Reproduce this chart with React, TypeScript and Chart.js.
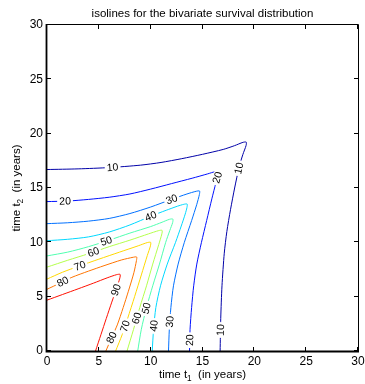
import React, { useEffect, useRef } from 'react';
import { Chart, registerables } from 'chart.js';

Chart.register(...registerables);

const LEVELS = [10, 20, 30, 40, 50, 60, 70, 80, 90];
const COLORS = ['#0000A8', '#0010FF', '#0070FF', '#00D8FF', '#50FFB0', '#B4FF4C', '#FFD800', '#FF7400', '#FF1000'];
const TICKS = [0, 5, 10, 15, 20, 25, 30];

const c10 = [[0,16.7],[3,16.76],[6,16.88],[9,17.1],[11,17.35],[13,17.7],[15,18.1],[17,18.55],[18.1,18.9],[18.9,19.2],[19.22,19.22],[19.2,18.9],[18.9,18.1],[18.55,17],[18.1,15],[17.7,13],[17.35,11],[17.1,9],[16.88,6],[16.76,3],[16.7,0]];
const c20 = [[0,13.75],[2,13.8],[4,13.95],[6,14.15],[8,14.45],[10,14.9],[12,15.4],[14,15.9],[15.5,16.3],[16.2,16.5],[16.52,16.52],[16.5,16.2],[16.3,15.5],[15.9,14],[15.4,12],[14.9,10],[14.45,8],[14.15,6],[13.95,4],[13.8,2],[13.75,0]];
const c30 = [[0,11.72],[2,11.8],[4,11.95],[6,12.2],[8,12.65],[10,13.25],[12,13.95],[13.5,14.45],[14.4,14.7],[14.72,14.72],[14.7,14.4],[14.45,13.5],[13.95,12],[13.25,10],[12.65,8],[12.2,6],[11.95,4],[11.8,2],[11.72,0]];
const c40 = [[0,10.15],[2,10.28],[4,10.5],[6,10.95],[8,11.6],[10,12.4],[11.5,12.95],[12.6,13.33],[13.2,13.5],[13.52,13.52],[13.5,13.2],[13.33,12.6],[12.95,11.5],[12.4,10],[11.6,8],[10.95,6],[10.5,4],[10.28,2],[10.15,0]];
const c50 = [[0,8.75],[2,9.1],[4,9.6],[6,10.2],[8,10.85],[10,11.45],[11.1,11.85],[11.82,12.12],[12.14,12.14],[12.12,11.82],[11.85,11.1],[11.45,10],[10.85,8],[10.2,6],[9.6,4],[9.1,2],[8.75,0]];
const c60 = [[0,7.72],[2,8.35],[4,8.95],[6,9.6],[8,10.2],[9.8,10.78],[10.78,11.08],[11.1,11.1],[11.08,10.78],[10.78,9.8],[10.2,8],[9.6,6],[8.95,4],[8.35,2],[7.72,0]];
const c70 = [[0,6.62],[1.5,7.25],[3,7.78],[5,8.45],[7,9.1],[8.8,9.68],[9.68,9.98],[10,10],[9.98,9.68],[9.68,8.8],[9.1,7],[8.45,5],[7.78,3],[7.25,1.5],[6.62,0]];
const c80 = [[0,5.68],[1.2,6.22],[2.4,6.78],[4,7.35],[5.5,7.85],[7.2,8.38],[8.33,8.63],[8.65,8.65],[8.63,8.33],[8.38,7.2],[7.85,5.5],[7.35,4],[6.78,2.4],[6.22,1.2],[5.68,0]];
const c90 = [[0,4.68],[1.5,5.2],[3,5.72],[4.5,6.25],[5.8,6.73],[6.73,7.03],[7.05,7.05],[7.03,6.73],[6.73,5.8],[6.25,4.5],[5.72,3],[5.2,1.5],[4.68,0]];
const CONTOURS = [c10, c20, c30, c40, c50, c60, c70, c80, c90];

// [level, t1, t2] approximate label anchor positions
const LABELS = [
  [10, 6.33, 16.88], [10, 18.55, 16.81], [10, 16.75, 1.93],
  [20, 1.74, 13.8], [20, 16.38, 15.98], [20, 13.72, 1.0],
  [30, 12.02, 14.0], [30, 11.88, 2.7],
  [40, 10.0, 12.45], [40, 10.4, 2.3],
  [50, 5.65, 10.3], [50, 10.0, 3.83],
  [60, 4.47, 9.1], [60, 8.71, 3.0],
  [70, 3.18, 7.82], [70, 7.52, 2.3],
  [80, 1.57, 6.3], [80, 6.17, 1.26],
  [90, 6.72, 5.61],
];

const TITLE = 'isolines for the bivariate survival distribution';
const FONT = '"Liberation Sans", Arial, Helvetica, sans-serif';

function drawSubText(ctx: CanvasRenderingContext2D, parts: [string, boolean][], size: number) {
  let w = 0;
  for (const [t, sub] of parts) {
    ctx.font = `${sub ? size * 0.72 : size}px ${FONT}`;
    w += ctx.measureText(t).width;
  }
  let x = -w / 2;
  for (const [t, sub] of parts) {
    ctx.font = `${sub ? size * 0.72 : size}px ${FONT}`;
    ctx.fillText(t, x, sub ? size * 0.3 : 0);
    x += ctx.measureText(t).width;
  }
}

const overlay = {
  id: 'overlay',
  afterDatasetsDraw(chart: any) {
    const ctx: CanvasRenderingContext2D = chart.ctx;
    const xs = chart.scales.x, ys = chart.scales.y;
    ctx.save();
    ctx.font = `10.5px ${FONT}`;
    ctx.textAlign = 'center';
    ctx.textBaseline = 'middle';
    for (const [lev, t1, t2] of LABELS) {
      const idx = LEVELS.indexOf(lev);
      const pts = CONTOURS[idx].map(([a, b]) => [xs.getPixelForValue(a), ys.getPixelForValue(b)]);
      const px = xs.getPixelForValue(t1), py = ys.getPixelForValue(t2);
      let best = Infinity, bx = px, by = py, ang = 0;
      for (let i = 0; i < pts.length - 1; i++) {
        const [x0, y0] = pts[i], [x1, y1] = pts[i + 1];
        const dx = x1 - x0, dy = y1 - y0;
        const L2 = dx * dx + dy * dy || 1;
        let t = ((px - x0) * dx + (py - y0) * dy) / L2;
        t = Math.max(0, Math.min(1, t));
        const qx = x0 + t * dx, qy = y0 + t * dy;
        const d = (qx - px) ** 2 + (qy - py) ** 2;
        if (d < best) { best = d; bx = qx; by = qy; ang = Math.atan2(dy, dx); }
      }
      if (ang > Math.PI / 2) ang -= Math.PI;
      if (ang <= -Math.PI / 2) ang += Math.PI;
      const text = String(lev);
      ctx.save();
      ctx.translate(bx, by);
      ctx.rotate(ang);
      const w = ctx.measureText(text).width;
      ctx.fillStyle = '#ffffff';
      ctx.fillRect(-w / 2 - 2, -4.5, w + 4, 9);
      ctx.fillStyle = '#000000';
      ctx.fillText(text, 0, 0.5);
      ctx.restore();
    }
    ctx.restore();
  },
  afterDraw(chart: any) {
    const ctx: CanvasRenderingContext2D = chart.ctx;
    const xs = chart.scales.x, ys = chart.scales.y;
    const { left, right, top, bottom } = chart.chartArea;
    ctx.save();
    ctx.strokeStyle = '#000';
    ctx.lineWidth = 1;
    ctx.beginPath();
    ctx.moveTo(left, top - 0.5); ctx.lineTo(right + 0.5, top - 0.5);
    ctx.moveTo(right + 0.5, top - 0.5); ctx.lineTo(right + 0.5, bottom);
    ctx.stroke();
    ctx.lineWidth = 1.8;
    ctx.beginPath();
    ctx.moveTo(left - 0.5, top - 1); ctx.lineTo(left - 0.5, bottom + 0.5); ctx.lineTo(right + 1, bottom + 0.5);
    ctx.stroke();
    // ticks
    const tl = 4;
    ctx.lineWidth = 1;
    ctx.beginPath();
    for (const v of TICKS) {
      const x = Math.round(xs.getPixelForValue(v)) - 0.5;
      ctx.moveTo(x, bottom); ctx.lineTo(x, bottom - tl);
      ctx.moveTo(x, top); ctx.lineTo(x, top + tl);
      const y = Math.round(ys.getPixelForValue(v)) - 0.5;
      ctx.moveTo(left, y); ctx.lineTo(left + tl, y);
      ctx.moveTo(right, y); ctx.lineTo(right - tl, y);
    }
    ctx.stroke();
    ctx.fillStyle = '#000';
    ctx.font = `12px ${FONT}`;
    ctx.textAlign = 'center';
    ctx.textBaseline = 'middle';
    for (const v of TICKS) {
      ctx.fillText(String(v), xs.getPixelForValue(v), bottom + 11);
    }
    ctx.textAlign = 'right';
    for (const v of TICKS) {
      ctx.fillText(String(v), left - 4, ys.getPixelForValue(v));
    }
    // title
    ctx.textAlign = 'center';
    ctx.textBaseline = 'alphabetic';
    ctx.font = `11.5px ${FONT}`;
    ctx.fillText(TITLE, (left + right) / 2, 17);
    // x axis label
    ctx.textAlign = 'left';
    ctx.save();
    ctx.translate((left + right) / 2, 378);
    drawSubText(ctx, [['time t', false], ['1', true], ['  (in years)', false]], 11.5);
    ctx.restore();
    // y axis label
    ctx.save();
    ctx.translate(19.5, (top + bottom) / 2);
    ctx.rotate(-Math.PI / 2);
    drawSubText(ctx, [['time t', false], ['2', true], ['  (in years)', false]], 11.5);
    ctx.restore();
    ctx.restore();
  },
};

export default function App() {
  const ref = useRef<HTMLCanvasElement | null>(null);
  useEffect(() => {
    document.body.style.margin = '0';
    const canvas = ref.current;
    if (!canvas) return;
    const chart = new Chart(canvas, {
      type: 'scatter',
      data: {
        datasets: CONTOURS.map((c, i) => ({
          label: String(LEVELS[i]),
          data: c.map(([x, y]) => ({ x, y })),
          showLine: true,
          borderColor: COLORS[i],
          backgroundColor: COLORS[i],
          borderWidth: 1,
          pointRadius: 0,
          tension: 0.25,
          fill: false,
        })),
      },
      options: {
        animation: false,
        responsive: false,
        devicePixelRatio: 1,
        events: [],
        layout: { padding: { left: 47, top: 25, right: 7, bottom: 33 } },
        plugins: { legend: { display: false }, tooltip: { enabled: false }, title: { display: false } },
        scales: {
          x: { type: 'linear', min: 0, max: 30, display: false },
          y: { type: 'linear', min: 0, max: 30, display: false },
        },
      },
      plugins: [overlay],
    } as any);
    return () => chart.destroy();
  }, []);
  return (
    <div style={{ width: 365, height: 384, background: '#fff' }}>
      <canvas ref={ref} width={365} height={384} style={{ display: 'block' }} />
    </div>
  );
}
